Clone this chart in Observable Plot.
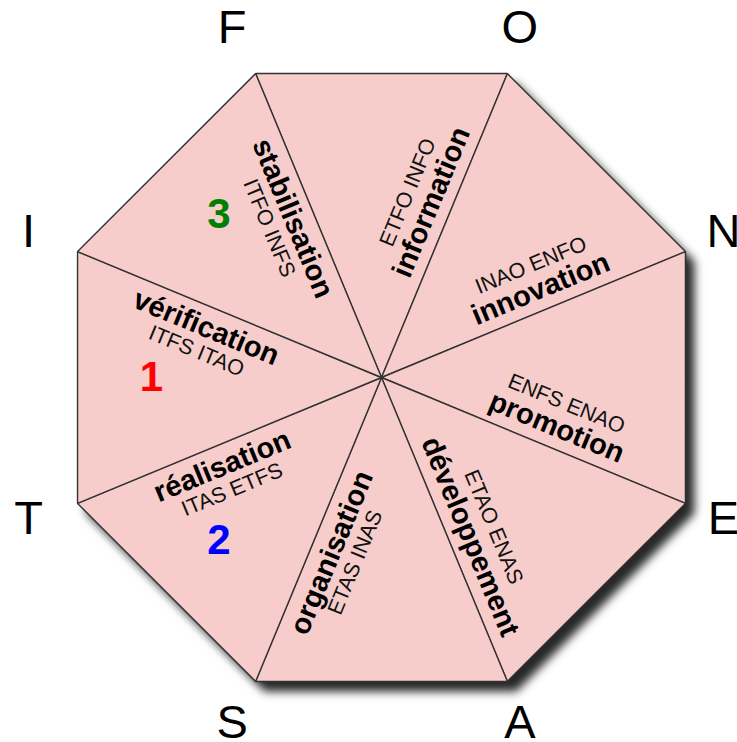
<!DOCTYPE html>
<html>
<head>
<meta charset="utf-8">
<script src="https://cdn.jsdelivr.net/npm/d3@7"></script>
<script src="https://cdn.jsdelivr.net/npm/@observablehq/plot@0.6"></script>
<style>
  html, body { margin: 0; padding: 0; background: #fff; }
  #chart svg { display: block; }
</style>
</head>
<body>
<div id="chart"></div>
<script>
// ---- data ----
const cornerLetters = ["F", "O", "N", "E", "A", "S", "T", "I"];           // at octagon vertices, clockwise from top-left
const sectorNames = ["information", "innovation", "promotion", "développement",
                     "organisation", "réalisation", "vérification", "stabilisation"]; // clockwise from top
const sectorCodes = ["ETFO INFO", "INAO ENFO", "ENFS ENAO", "ETAO ENAS",
                     "ETAS INAS", "ITAS ETFS", "ITFS ITAO", "ITFO INFS"];
const stepNumbers = ["1", "2", "3"];
const stepSectors = ["vérification", "réalisation", "stabilisation"];

// ---- layout / style ----
const R = 329;                // vertex radius
const deg = Math.PI / 180;
const FILL = "#f6cdcb";
const STROKE = "#333";
const stepColors = {"1": "#ff0000", "2": "#0000ff", "3": "#008000"};
const FONT = "'Liberation Sans', Arial, Helvetica, sans-serif";

const vertexAngle = j => 112.5 - 45 * j;
const pol = (r, a) => [r * Math.cos(a * deg), r * Math.sin(a * deg)];

const vertices = cornerLetters.map((letter, j) => {
  const [x, y] = pol(R, vertexAngle(j));
  return {letter, j, x, y};
});

const triangles = [];
sectorNames.forEach((name, k) => {
  const a = vertices[k], b = vertices[(k + 1) % 8];
  triangles.push({k, x: 0, y: 0}, {k, x: a.x, y: a.y}, {k, x: b.x, y: b.y});
});

const letterPts = cornerLetters.map((letter, j) => {
  const [x, y] = pol(376, vertexAngle(j));
  return {letter, x, y};
});

function labelPos(k, perp, along) {
  const th = 67.5 - 45 * k;
  const ux = Math.cos(th * deg), uy = Math.sin(th * deg);
  const nx = -uy, ny = ux;
  let reading = ((th % 360) + 540) % 360 - 180;   // (-180,180]
  if (reading > 90) reading -= 180;
  if (reading <= -90) reading += 180;
  return {x: along * ux + perp * nx, y: along * uy + perp * ny, rot: -reading};
}

const boldLabels = sectorNames.map((t, k) => ({text: t, ...labelPos(k, 21, 181)}));
const codeLabels = sectorCodes.map((t, k) => ({text: t, ...labelPos(k, 46.5, 181)}));

const stepPts = stepNumbers.map((n, i) => {
  const k = sectorNames.indexOf(stepSectors[i]);
  const [x, y] = pol(230, 90 - 45 * k);
  return {n, x, y};
});

const chart = Plot.plot({
  width: 737,
  height: 742,
  margin: 0,
  x: {domain: [-381, 356], axis: null},
  y: {domain: [-365, 377], axis: null},
  style: {fontFamily: FONT, background: "#fff"},
  marks: [
    Plot.line(vertices, {x: "x", y: "y", curve: "linear-closed", fill: "#000", fillOpacity: 0.85, stroke: "none", dx: 9, dy: 10}),
    Plot.line(triangles, {x: "x", y: "y", z: "k", curve: "linear-closed", fill: FILL, stroke: STROKE, strokeWidth: 1.4, strokeLinejoin: "miter"}),
    Plot.text(codeLabels, {x: "x", y: "y", text: "text", rotate: "rot", fontSize: 21.5, fill: "#111", fontFamily: FONT}),
    Plot.text(boldLabels, {x: "x", y: "y", text: "text", rotate: "rot", fontSize: 29, fontWeight: "bold", fill: "#000", fontFamily: FONT}),
    Plot.text(stepPts, {x: "x", y: "y", text: "n", fontSize: 42, fontWeight: "bold", fill: d => stepColors[d.n], fontFamily: FONT}),
    Plot.text(letterPts, {x: "x", y: "y", text: "letter", fontSize: 47, fill: "#000", fontFamily: FONT, dx: -5.5, dy: -2})
  ]
});

// soft drop shadow on the first mark
const svg = d3.select(chart);
const defs = svg.insert("defs", ":first-child");
defs.append("filter").attr("id", "octShadow")
  .attr("x", "-20%").attr("y", "-20%").attr("width", "140%").attr("height", "140%")
  .append("feGaussianBlur").attr("stdDeviation", 5);
svg.select('g[aria-label="line"]').attr("filter", "url(#octShadow)");

document.getElementById("chart").appendChild(chart);
</script>
</body>
</html>
